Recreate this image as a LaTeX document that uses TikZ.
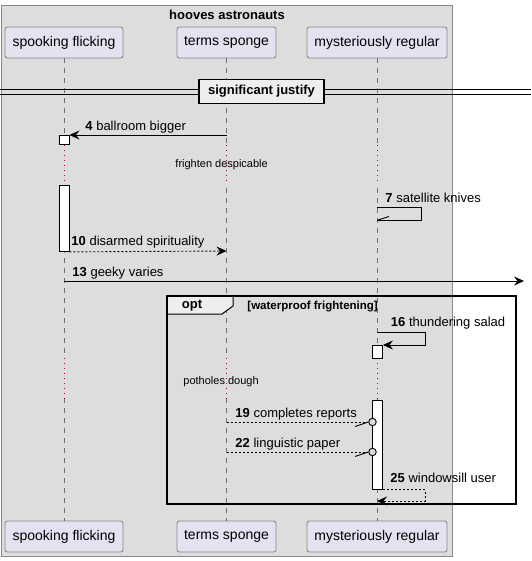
\documentclass[tikz,border=0pt]{standalone}
\usepackage{fontspec}
\setmainfont{Liberation Sans}
\usetikzlibrary{arrows.meta,positioning}
\definecolor{groupfill}{HTML}{DDDDDD}
\definecolor{groupline}{HTML}{888888}
\definecolor{partfill}{HTML}{E2E2F0}
\definecolor{partline}{HTML}{8A8A8A}
\definecolor{lifegray}{HTML}{707070}
\definecolor{delayred}{HTML}{A80036}
\definecolor{tabfill}{HTML}{EEEEEE}

\tikzset{
  part/.style={draw=partline, fill=partfill, rounded corners=2.5pt, minimum height=31pt,
    inner xsep=0pt, font=\fontsize{14}{16}\selectfont},
  lifeline/.style={draw=lifegray, dash pattern=on 5pt off 5pt},
  delayline/.style={draw=delayred, dash pattern=on 1pt off 4pt},
  actbox/.style={draw, fill=white, minimum width=10pt, inner sep=0pt, anchor=north},
  msgtxt/.style={anchor=base west, inner sep=0pt, font=\fontsize{13}{15}\selectfont},
  delaytxt/.style={anchor=base west, inner sep=0pt, font=\fontsize{11}{13}\selectfont},
  sync/.style={-{Stealth[length=10pt,width=9pt,inset=3.5pt]}},
  reply/.style={sync, dash pattern=on 2pt off 2pt},
}

\begin{document}
\begin{tikzpicture}[x=1pt,y=-1pt,line width=0.9pt]

\useasboundingbox (0,0) rectangle (531,561);

% box round the participants
\draw[fill=groupfill, draw=groupline] (1,5) rectangle (452,556);
\node(title)[font=\bfseries\fontsize{13}{15}\selectfont] at (227,14.5){hooves astronauts};

\node(sfTop)[part, minimum width=118pt] at (64,42.5){spooking flicking};
\node(tsTop)[part, minimum width=99pt] at (226.5,42.5){terms sponge};
\node(mrTop)[part, minimum width=140pt] at (377,42.5){mysteriously regular};

\node(sfBot)[part, minimum width=118pt] at (64,536.5){spooking flicking};
\node(tsBot)[part, minimum width=99pt] at (226.5,536.5){terms sponge};
\node(mrBot)[part, minimum width=140pt] at (377,536.5){mysteriously regular};

% lifelines
\draw[lifeline] (sfTop) -- (sfBot);
\draw[lifeline] (tsTop) -- (tsBot);
\draw[lifeline] (mrTop) -- (mrBot);

% delays
\foreach \lx in {64,226.5,377}{
  \draw[groupfill, line width=2.5pt] (\lx,145) -- (\lx,184);
  \draw[delayline] (\lx,145) -- (\lx,184);
  \draw[groupfill, line width=2.5pt] (\lx,358) -- (\lx,399);
  \draw[delayline] (\lx,358) -- (\lx,399);
}
\node(delay1)[delaytxt] at (175,168){frighten despicable};
\node(delay2)[delaytxt] at (183,384){potholes dough};

% divider
\draw (0,89) -- (531,89);
\draw (0,94) -- (531,94);
\node(divider)[draw, line width=1.4pt, fill=tabfill, minimum width=125pt, minimum height=24pt,
  font=\bfseries\fontsize{13}{15}\selectfont] at (261.5,91.5){significant justify};

% opt frame
\filldraw[fill=tabfill, line width=1pt] (167,296) -- (233,296) -- (233,306) -- (222,314) -- (167,314) -- cycle;
\draw[line width=1.8pt] (167,296) rectangle (516,504);
\node(optlabel)[font=\bfseries\fontsize{13}{15}\selectfont] at (192,305.5){opt};
\node(guard)[anchor=base west, inner sep=0pt, font=\bfseries\fontsize{11.5}{13}\selectfont] at (247,309){[waterproof frightening]};

% activations
\node(sfAct1)[actbox, minimum height=9pt] at (64,135){};
\node(sfAct2)[actbox, minimum height=66pt] at (64,185){};
\node(mrAct1)[actbox, minimum height=13pt] at (377.5,345){};
\node(mrAct2)[actbox, minimum height=89pt] at (377.5,400){};

% messages
\draw[sync] (tsTop |- 0,135) -- (sfAct1.north east);
\node(m4)[msgtxt] at (85,130.5){\textbf{4} ballroom bigger};

\draw (mrTop |- 0,207) -| (421,220) -- (mrTop |- 0,220);
\draw (378,220) -- (389,216.5);
\node(m7)[msgtxt] at (385,202.5){\textbf{7} satellite knives};

\draw[reply] (sfAct2.south east) -- (tsTop |- 0,251);
\node(m10)[msgtxt] at (71,245.5){\textbf{10} disarmed spirituality};

\coordinate(outR) at (524,281);
\draw[sync] (sfTop |- 0,281) -- (outR);
\node(m13)[msgtxt] at (72,276){\textbf{13} geeky varies};

\draw[sync] (mrTop |- 0,332) -| (425,345) -- (mrAct1.north east);
\node(m16)[msgtxt] at (390.5,326.5){\textbf{16} thundering salad};

\node(c19)[circle, draw, fill=groupfill, minimum size=7.5pt, inner sep=0pt] at (372.5,422){};
\draw[dash pattern=on 2pt off 2pt] (tsTop |- 0,422) -- (c19.west);
\draw (355,426.5) -- (c19.west);
\node(m19)[msgtxt] at (235,417.5){\textbf{19} completes reports};

\node(c22)[circle, draw, fill=groupfill, minimum size=7.5pt, inner sep=0pt] at (372.5,452){};
\draw[dash pattern=on 2pt off 2pt] (tsTop |- 0,452) -- (c22.west);
\draw (355,456.5) -- (c22.west);
\node(m22)[msgtxt] at (235,447){\textbf{22} linguistic paper};

\draw[reply] (mrAct2.south east) -| (425,501) -- (mrTop |- 0,501);
\node(m25)[msgtxt] at (390,482){\textbf{25} windowsill user};

\end{tikzpicture}
\end{document}
